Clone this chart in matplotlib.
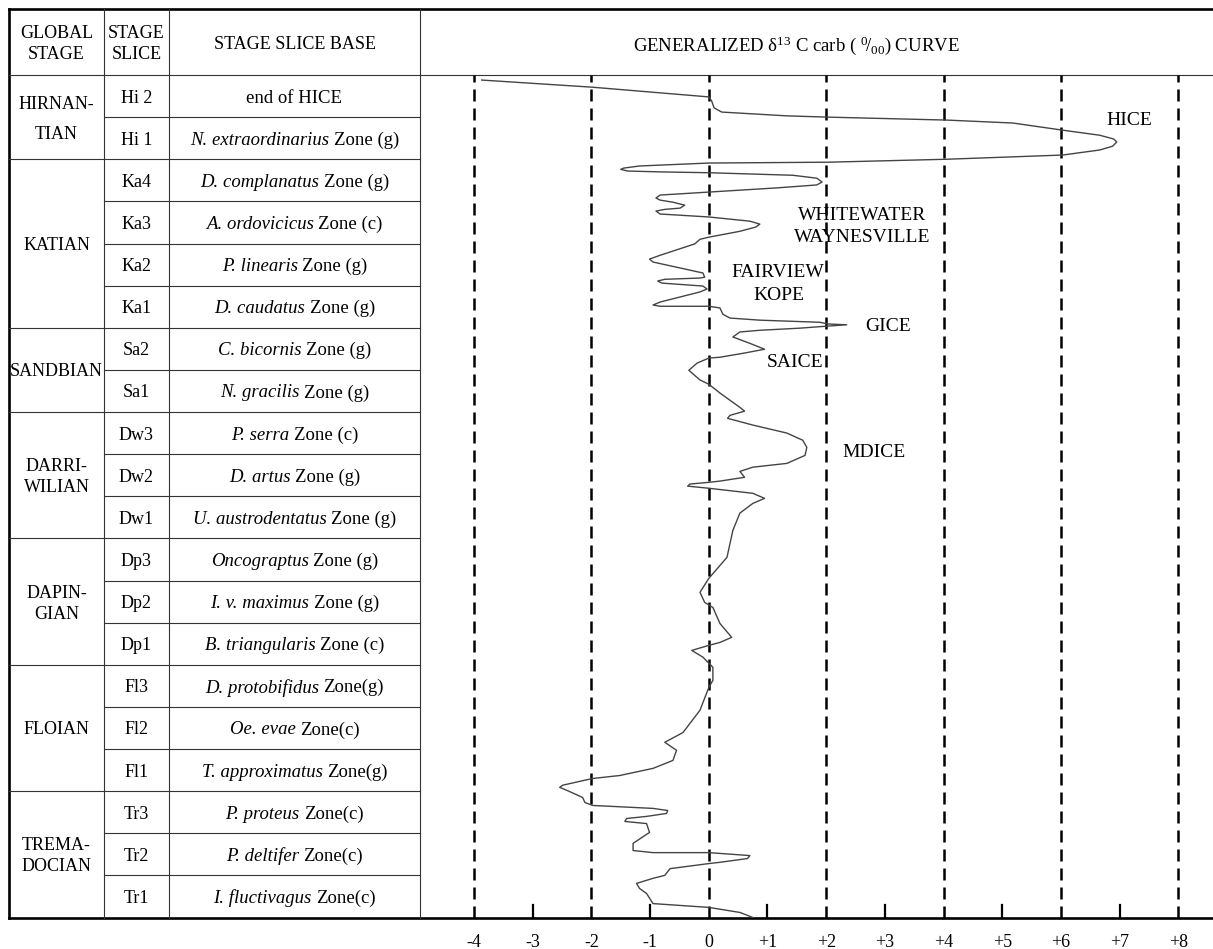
import numpy as np
import matplotlib.pyplot as plt

plt.rcParams['font.family'] = ['Liberation Serif', 'DejaVu Serif']
plt.rcParams['mathtext.fontset'] = 'custom'
plt.rcParams['mathtext.rm'] = 'Liberation Serif'
plt.rcParams['mathtext.it'] = 'Liberation Serif:italic'

# global stages and how many stage slices each one spans
stages = ['HIRNAN-\nTIAN', 'KATIAN', 'SANDBIAN', 'DARRI-\nWILIAN',
          'DAPIN-\nGIAN', 'FLOIAN', 'TREMA-\nDOCIAN']
stage_rows = [2, 4, 2, 3, 3, 3, 3]

slices = ['Hi 2', 'Hi 1', 'Ka4', 'Ka3', 'Ka2', 'Ka1', 'Sa2', 'Sa1',
          'Dw3', 'Dw2', 'Dw1', 'Dp3', 'Dp2', 'Dp1', 'Fl3', 'Fl2', 'Fl1',
          'Tr3', 'Tr2', 'Tr1']

# stage slice base: italic taxon part + plain part
base_taxa = ['', 'N. extraordinarius', 'D. complanatus', 'A. ordovicicus',
             'P. linearis', 'D. caudatus', 'C. bicornis', 'N. gracilis',
             'P. serra', 'D. artus', 'U. austrodentatus', 'Oncograptus',
             'I. v. maximus', 'B. triangularis', 'D. protobifidus', 'Oe. evae',
             'T. approximatus', 'P. proteus', 'P. deltifer', 'I. fluctivagus']
base_rest = ['end of HICE', 'Zone (g)', 'Zone (g)', 'Zone (c)', 'Zone (g)',
             'Zone (g)', 'Zone (g)', 'Zone (g)', 'Zone (c)', 'Zone (g)',
             'Zone (g)', 'Zone (g)', 'Zone (g)', 'Zone (c)', 'Zone(g)',
             'Zone(c)', 'Zone(g)', 'Zone(c)', 'Zone(c)', 'Zone(c)']

# d13C carb curve (permil) against position in stage-slice rows (0 = top)
d13c = [-3.87, -1.98, 0.00, 0.05, 0.09, 0.22, 1.33, 2.03, 4.05, 5.18,
        6.03, 6.66, 6.90, 6.95, 6.88, 6.66, 6.03, 4.05, 2.03, 0.00,
        -1.18, -1.45, -1.50, -1.38, -0.83, 0.00, 1.43, 1.84, 1.93, 1.84,
        1.16, 0.00, -0.83, -0.90, -0.83, -0.61, -0.41, -0.49, -0.75, -0.90,
        -0.83, 0.00, 0.70, 0.87, 0.80, 0.53, 0.00, -0.15, -0.24, -0.83,
        -1.01, -0.95, -0.49, -0.10, -0.07, -0.15, -0.75, -0.87, -0.80, -0.10,
        -0.03, -0.15, -0.83, -0.95, -0.83, 0.00, 0.19, 0.24, 0.36, 0.87,
        1.89, 2.03, 2.35, 2.03, 1.55, 0.87, 0.53, 0.41, 0.70, 0.95,
        0.61, 0.19, 0.00, -0.20, -0.34, -0.15, 0.00, 0.19, 0.53, 0.61,
        0.36, 0.32, 0.75, 1.33, 1.60, 1.67, 1.64, 1.33, 0.75, 0.53,
        0.61, 0.19, 0.00, -0.32, -0.36, 0.00, 0.75, 0.95, 0.75, 0.53,
        0.41, 0.31, 0.00, -0.15, -0.07, 0.07, 0.19, 0.39, 0.19, 0.00,
        -0.29, -0.10, 0.07, 0.07, 0.00, -0.15, -0.44, -0.75, -0.55, -0.61,
        -0.95, -1.52, -1.98, -2.49, -2.54, -2.42, -2.15, -2.11, -1.98, -0.95,
        -0.70, -0.72, -1.06, -1.40, -1.43, -1.06, -1.01, -1.29, -1.29, -0.95,
        0.00, 0.70, 0.66, 0.19, 0.00, -0.66, -0.75, -0.95, -1.23, -1.18,
        -1.06, -0.95, 0.00, 0.53, 0.75]
pos = [0.12, 0.29, 0.52, 0.62, 0.78, 0.88, 0.97, 1.00, 1.07, 1.14,
       1.31, 1.43, 1.52, 1.59, 1.69, 1.78, 1.90, 2.00, 2.07, 2.09,
       2.16, 2.21, 2.24, 2.28, 2.30, 2.32, 2.38, 2.45, 2.54, 2.61,
       2.68, 2.78, 2.85, 2.92, 2.97, 3.02, 3.09, 3.16, 3.19, 3.23,
       3.30, 3.37, 3.47, 3.54, 3.61, 3.71, 3.85, 3.90, 4.01, 4.28,
       4.37, 4.44, 4.58, 4.70, 4.80, 4.82, 4.85, 4.89, 4.94, 5.01,
       5.08, 5.15, 5.39, 5.46, 5.49, 5.49, 5.53, 5.68, 5.77, 5.82,
       5.87, 5.91, 5.93, 5.96, 6.01, 6.06, 6.10, 6.22, 6.37, 6.51,
       6.60, 6.70, 6.72, 6.84, 7.01, 7.24, 7.34, 7.55, 7.89, 7.98,
       8.08, 8.15, 8.31, 8.50, 8.67, 8.84, 9.03, 9.22, 9.31, 9.41,
       9.55, 9.64, 9.67, 9.71, 9.76, 9.81, 9.93, 10.05, 10.17, 10.40,
       10.81, 11.45, 11.95, 12.28, 12.52, 12.64, 13.02, 13.35, 13.47, 13.54,
       13.66, 13.82, 14.06, 14.37, 14.54, 15.08, 15.61, 15.84, 16.03, 16.27,
       16.46, 16.63, 16.70, 16.86, 16.91, 16.98, 17.15, 17.27, 17.34, 17.41,
       17.46, 17.53, 17.60, 17.65, 17.72, 17.77, 17.98, 18.24, 18.41, 18.46,
       18.46, 18.53, 18.60, 18.69, 18.72, 18.84, 19.00, 19.07, 19.19, 19.31,
       19.43, 19.67, 19.76, 19.88, 20.00]

events = ['HICE', 'WHITEWATER', 'WAYNESVILLE', 'FAIRVIEW', 'KOPE',
          'GICE', 'SAICE', 'MDICE']
event_x = [7.17, 2.62, 2.62, 1.18, 1.19, 3.05, 1.47, 2.81]
event_y = [1.09, 3.33, 3.85, 4.70, 5.23, 5.96, 6.82, 8.95]

ticks = list(range(-4, 9))
tick_labels = ['-4', '-3', '-2', '-1', '0', '+1', '+2', '+3', '+4',
               '+5', '+6', '+7', '+8']

W, H = 1213, 949
top, head, bottom = 9, 75, 917.5
col_x = [9, 104, 169, 420]
row_h = (bottom - head) / len(slices)

fig = plt.figure(figsize=(W / 100, H / 100), dpi=100)
bg = fig.add_axes([0, 0, 1, 1])
bg.set_xlim(0, W)
bg.set_ylim(H, 0)
bg.axis('off')

thin = dict(color='#333333', lw=0.8)
thick = dict(color='black', lw=1.9)

# table frame
bg.plot([col_x[0], W], [top, top], **thick)
bg.plot([col_x[0], W], [bottom, bottom], **thick)
bg.plot([col_x[0], col_x[0]], [top, bottom], **thick)
bg.plot([col_x[0], W], [head, head], **thin)
for x in col_x[1:]:
    bg.plot([x, x], [top, bottom], **thin)

group_ends = np.cumsum(stage_rows)
for i in range(1, len(slices)):
    y = head + i * row_h
    x0 = col_x[0] if i in group_ends else col_x[1]
    bg.plot([x0, col_x[3]], [y, y], **thin)

fs = 13
bg.text((col_x[0] + col_x[1]) / 2, 44, 'GLOBAL\nSTAGE', ha='center',
        va='center', fontsize=fs, linespacing=1.3)
bg.text((col_x[1] + col_x[2]) / 2, 44, 'STAGE\nSLICE', ha='center',
        va='center', fontsize=fs, linespacing=1.3)
bg.text((col_x[2] + col_x[3]) / 2, 44, 'STAGE SLICE BASE', ha='center',
        va='center', fontsize=fs)
bg.text(796, 46, r'GENERALIZED δ$^{13}$ C carb ( ${}^{0}\!/_{00}$) CURVE',
        ha='center', va='center', fontsize=13.5)

start = 0
for name, n in zip(stages, stage_rows):
    yc = head + (start + n / 2) * row_h + 2
    bg.text((col_x[0] + col_x[1]) / 2, yc, name, ha='center', va='center',
            fontsize=fs, linespacing=2.0 if name.startswith('HIRN') else 1.3)
    start += n

renderer = fig.canvas.get_renderer()
xc = (col_x[2] + col_x[3]) / 2
for i, s in enumerate(slices):
    yc = head + (i + 0.5) * row_h + 2
    bg.text((col_x[1] + col_x[2]) / 2, yc, s, ha='center', va='center', fontsize=fs)
    t_it = bg.text(0, yc, base_taxa[i], style='italic', ha='left',
                   va='center', fontsize=13.5)
    t_rm = bg.text(0, yc, base_rest[i], ha='left', va='center', fontsize=13.5)
    w_it = t_it.get_window_extent(renderer).width if base_taxa[i] else 0
    w_rm = t_rm.get_window_extent(renderer).width
    gap = 4.5 if base_taxa[i] else 0
    x0 = xc - (w_it + gap + w_rm) / 2
    t_it.set_x(x0)
    t_rm.set_x(x0 + w_it + gap)

# curve panel
ax = fig.add_axes([col_x[3] / W, (H - bottom) / H, (W - col_x[3]) / W,
                   (bottom - head) / H])
ax.set_xlim(-4.92, 8.59)
ax.set_ylim(20, 0)
ax.patch.set_alpha(0)
for sp in ax.spines.values():
    sp.set_visible(False)
ax.set_yticks([])

for v in ticks[::2]:
    ax.axvline(v, color='black', lw=1.8, linestyle=(0, (4.8, 2.8)))
for v in ticks[1::2]:
    ax.plot([v, v], [20, 19.7], color='black', lw=1.6)

ax.plot(d13c, pos, color='#444444', lw=1.0)

for name, x, y in zip(events, event_x, event_y):
    ax.text(x, y, name, ha='center', va='center', fontsize=14)

ax.set_xticks(ticks)
ax.set_xticklabels(tick_labels, fontsize=13)
ax.tick_params(axis='x', length=0, pad=12)

fig.savefig('out.png', dpi=100)
